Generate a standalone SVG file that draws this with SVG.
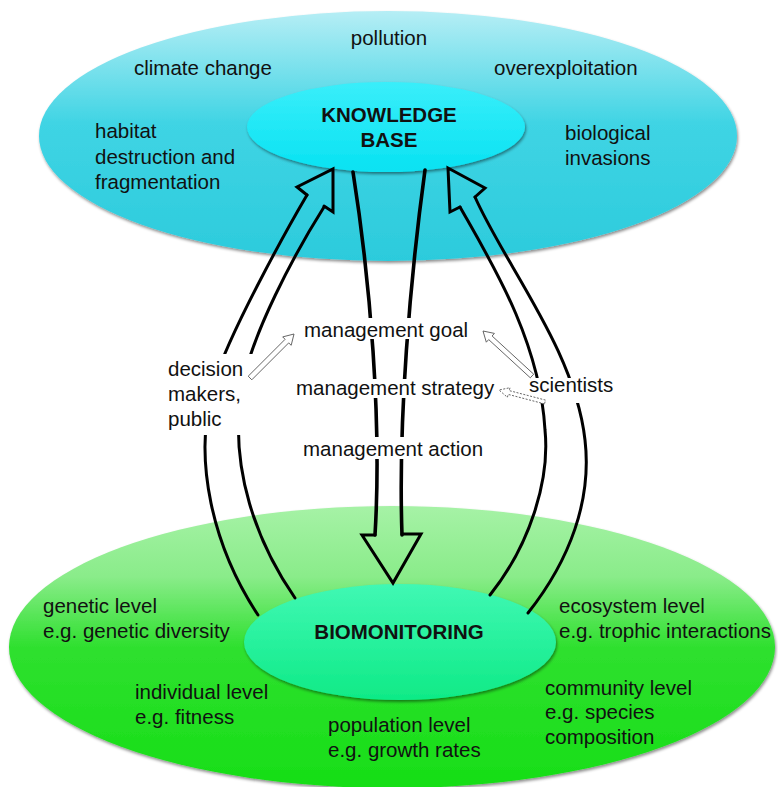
<svg xmlns="http://www.w3.org/2000/svg" width="778" height="787" viewBox="0 0 778 787">
<style>
.t{font-family:"Liberation Sans",Arial,sans-serif;font-size:20.5px;fill:#111}
.b{font-weight:bold;text-anchor:middle}
.ln{fill:none;stroke:#000;stroke-width:3;stroke-linecap:round;stroke-linejoin:miter}
.sh{fill:none;stroke:#000;stroke-width:3.6;stroke-linecap:round}
.sm{fill:#fff;stroke:#555;stroke-width:0.9}
</style>
<defs>
<linearGradient id="gTop" x1="0" y1="0" x2="0" y2="1">
<stop offset="0" stop-color="#b6eef5"/>
<stop offset="0.45" stop-color="#3fd4e4"/>
<stop offset="1" stop-color="#2ccbdc"/>
</linearGradient>
<linearGradient id="gKB" x1="0" y1="0" x2="0" y2="1">
<stop offset="0" stop-color="#3aeefa"/>
<stop offset="1" stop-color="#08e2f2"/>
</linearGradient>
<linearGradient id="gBot" x1="0" y1="0" x2="0" y2="1">
<stop offset="0" stop-color="#a6f2a6"/>
<stop offset="0.25" stop-color="#8aec8a"/>
<stop offset="0.5" stop-color="#2fe02f"/>
<stop offset="1" stop-color="#16de16"/>
</linearGradient>
<linearGradient id="gBM" x1="0" y1="0" x2="0" y2="1">
<stop offset="0" stop-color="#40f8b4"/>
<stop offset="1" stop-color="#0fea86"/>
</linearGradient>
<filter id="shd" x="-10%" y="-10%" width="120%" height="125%">
<feDropShadow dx="1" dy="2" stdDeviation="1.5" flood-color="#000" flood-opacity="0.45"/>
</filter>
<mask id="gaps" maskUnits="userSpaceOnUse" x="0" y="0" width="778" height="787">
<rect x="0" y="0" width="778" height="787" fill="#fff"/>
<rect x="300" y="318" width="180" height="21" fill="#000"/>
<rect x="290" y="379" width="212" height="19" fill="#000"/>
<rect x="300" y="437" width="190" height="22" fill="#000"/>
<rect x="150" y="354" width="110" height="81" fill="#000"/>
<rect x="520" y="378" width="110" height="25" fill="#000"/>
</mask>
</defs>
<rect width="778" height="787" fill="#fff"/>

<g id="threats">
<ellipse cx="388" cy="136" rx="349" ry="125" fill="url(#gTop)" filter="url(#shd)"/>
<text class="t" x="389" y="45" text-anchor="middle">pollution</text>
<text class="t" x="134" y="75">climate change</text>
<text class="t" x="494" y="75">overexploitation</text>
<text class="t" x="95" y="138">habitat</text>
<text class="t" x="95" y="164">destruction and</text>
<text class="t" x="95" y="189">fragmentation</text>
<text class="t" x="565" y="140">biological</text>
<text class="t" x="565" y="165">invasions</text>
</g>

<g id="levels">
<ellipse cx="392" cy="647" rx="383" ry="141" fill="url(#gBot)" filter="url(#shd)"/>
<text class="t" x="43" y="613">genetic level</text>
<text class="t" x="43" y="638">e.g. genetic diversity</text>
<text class="t" x="559" y="613">ecosystem level</text>
<text class="t" x="559" y="638">e.g. trophic interactions</text>
<text class="t" x="135" y="699">individual level</text>
<text class="t" x="135" y="724">e.g. fitness</text>
<text class="t" x="328" y="732">population level</text>
<text class="t" x="328" y="757">e.g. growth rates</text>
<text class="t" x="545" y="695">community level</text>
<text class="t" x="545" y="719">e.g. species</text>
<text class="t" x="545" y="744">composition</text>
</g>

<g id="knowledge-base">
<ellipse cx="386" cy="127" rx="139" ry="45" fill="url(#gKB)" filter="url(#shd)"/>
<text class="t b" x="389" y="122">KNOWLEDGE</text>
<text class="t b" x="389" y="147">BASE</text>
</g>

<g id="biomonitoring">
<ellipse cx="400" cy="642" rx="156" ry="58" fill="url(#gBM)" filter="url(#shd)"/>
<text class="t b" x="399" y="639">BIOMONITORING</text>
</g>

<g id="labels">
<text class="t" x="304" y="337">management goal</text>
<text class="t" x="296" y="395">management strategy</text>
<text class="t" x="303" y="456">management action</text>
<text class="t" x="168" y="376">decision</text>
<text class="t" x="168" y="401">makers,</text>
<text class="t" x="168" y="426">public</text>
<text class="t" x="529" y="392">scientists</text>
</g>

<g id="connectors">
<g mask="url(#gaps)">
<path class="ln" d="M258,615 C215,550 190,460 215,380 C230,332 287,229 307,195"/>
<path class="ln" d="M295,598 C255,540 232,470 240,400 C246,340 300,245 324,207"/>
<path class="ln" d="M490,595 C530,545 550,480 545,430 C540,340 490,260 460,207"/>
<path class="ln" d="M528,613 C570,560 592,500 585,440 C575,350 505,265 475,197"/>
<path class="sh" d="M353,172 C370,280 382,420 375,535"/>
<path class="sh" d="M425,170 C410,280 398,420 402,535"/>
</g>
<path class="ln" d="M307,195 L297,187 L333,169 L333,212 L324,206"/>
<path class="ln" d="M460,207 L450,212 L448,168 L485,188 L475,197"/>
<path class="ln" d="M375,535 L362,535 L393,583 L421,534 L402,534"/>
<path class="sm" d="M248.2,376.2 L285.1,339.3 L282.7,336.9 L294,334 L291.2,345.3 L288.7,342.9 L251.8,379.8 Z"/>
<path class="sm" d="M530.3,377.8 L488.7,339.6 L486.3,342.2 L483,331 L494.4,333.4 L492.1,336 L533.7,374.2 Z"/>
<path class="sm" stroke-dasharray="2,1.5" d="M544.5,403.9 L508.2,394.4 L507.4,397.3 L499,390 L510,387.7 L509.2,390.6 L545.5,400.1 Z"/>
</g>
</svg>
